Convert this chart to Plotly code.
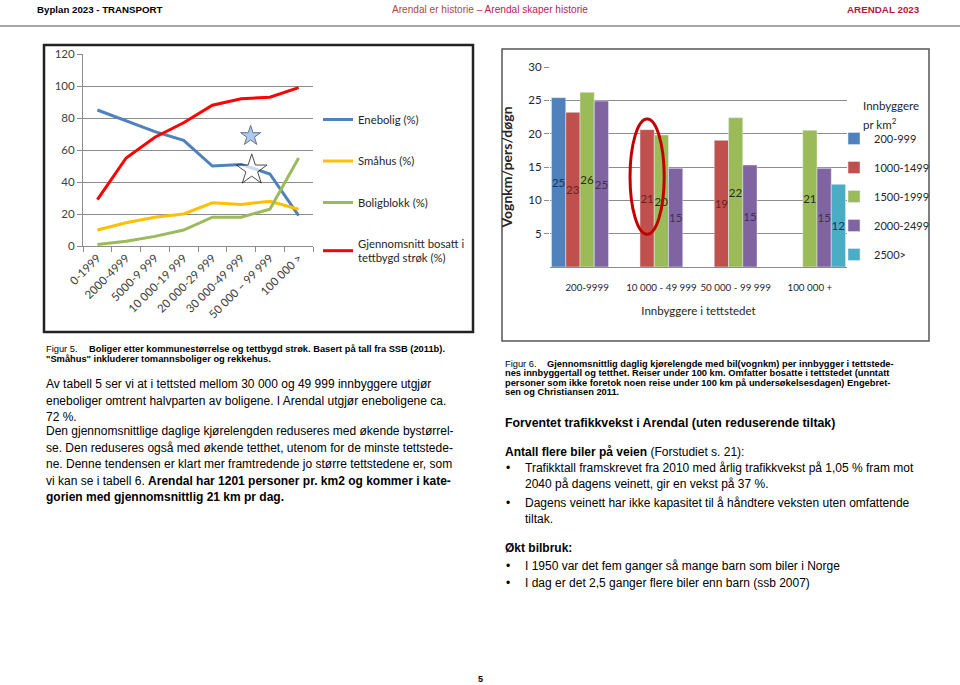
import plotly.graph_objects as go

# page size in px
W, H = 960, 685

# --- Figur 5 data (line chart) ---
size_classes = ['0-1999', '2000-4999', '5000-9 999', '10 000-19 999', '20 000-29 999',
                '30 000-49 999', '50 000 – 99 999', '100 000 >']
enebolig = [85, 78, 71.5, 66, 50, 51, 45, 19]
smahus = [10, 14.5, 18, 20, 27, 26, 28, 23]
boligblokk = [1, 3, 6, 10, 18, 18, 23, 55]
tettbygd = [29, 55, 68, 77, 88, 92, 93, 99]
star_x = [5.33, 5.37]
star_y = [68.8, 47.5]

# --- Figur 6 data (bar chart) ---
town_sizes = ['200-9999', '10 000 - 49 999', '50 000 - 99 999', '100 000 +']
dens_200_999 = [25.4, None, None, None]
dens_1000_1499 = [23.2, 20.6, 19.0, None]
dens_1500_1999 = [26.2, 19.8, 22.4, 20.5]
dens_2000_2499 = [24.9, 14.8, 15.3, 14.8]
dens_2500 = [None, None, None, 12.4]
highlight_group = 1   # 10 000 - 49 999
highlight_slot = 1    # 1000-1499 bar

CHART_FONT = 'Lato, Calibri, sans-serif'
BODY_FONT = 'Liberation Sans, Arial, sans-serif'


def px(x):
    return x / W


def py(y):
    return 1 - y / H


fig = go.Figure()

# line chart
line_series = [
    ('Enebolig (%)', enebolig, '#4f81bd'),
    ('Småhus (%)', smahus, '#ffc000'),
    ('Boligblokk (%)', boligblokk, '#9bbb59'),
    ('Gjennomsnitt bosatt i<br>tettbygd strøk (%)', tettbygd, '#ff0000'),
]
for i, (name, vals, col) in enumerate(line_series):
    fig.add_trace(go.Scatter(x=list(range(len(size_classes))), y=vals, name=name,
                             mode='lines', line=dict(color=col, width=3),
                             legendgroup='l%d' % i, xaxis='x', yaxis='y'))

fig.add_trace(go.Scatter(x=star_x, y=star_y, mode='markers', showlegend=False,
                         marker=dict(symbol='star', size=[15, 23], color=['#8db3e2', 'white'],
                                     line=dict(color=['#1f3864', '#000000'], width=1)),
                         xaxis='x', yaxis='y'))

# bar chart
bar_series = [
    ('200-999', dens_200_999, '#4f81bd', '#17375e'),
    ('1000-1499', dens_1000_1499, '#c0504d', '#632523'),
    ('1500-1999', dens_1500_1999, '#9bbb59', '#263010'),
    ('2000-2499', dens_2000_2499, '#8064a2', '#3f3151'),
    ('2500>', dens_2500, '#4bacc6', '#17375e'),
]
for i, (name, vals, col, tcol) in enumerate(bar_series):
    fig.add_trace(go.Bar(x=town_sizes, y=vals, name=name, marker_color=col,
                         texttemplate='%{y:.0f}', textposition='inside',
                         insidetextanchor='middle', textangle=0, constraintext='none',
                         textfont=dict(family=CHART_FONT, size=11.5, color=tcol),
                         legend='legend2', legendgroup='b%d' % i,
                         xaxis='x2', yaxis='y2'))

# red ellipse around the Arendal bar
bargap = 0.04
slot_w = (1 - bargap) / len(bar_series)
cx = highlight_group + (highlight_slot - 2) * slot_w
fig.add_shape(type='circle', xref='x2', yref='y2', x0=cx - 0.23, x1=cx + 0.23,
              y0=4.9, y1=22.2, line=dict(color='#c00000', width=3))

grid = '#8c8c8c'
fig.update_layout(
    width=W, height=H, margin=dict(l=0, r=0, t=0, b=0, autoexpand=False),
    paper_bgcolor='white', plot_bgcolor='white',
    barmode='group', bargap=bargap, bargroupgap=0,
    xaxis=dict(domain=[px(83), px(313)], range=[-0.5, 7.5], anchor='y',
               tickvals=list(range(len(size_classes))), ticktext=size_classes,
               tickangle=-45, showgrid=False, zeroline=False, automargin=False,
               showline=True, linecolor=grid, ticks='',
               minor=dict(ticks='outside', ticklen=5, tickcolor=grid, tick0=-0.5, dtick=1,
                          showgrid=False),
               tickfont=dict(family=CHART_FONT, size=11.5, color='#404040')),
    yaxis=dict(domain=[py(246), py(54)], range=[0, 120], dtick=20, anchor='x',
               gridcolor=grid, zeroline=False, showline=True, linecolor=grid,
               ticks='outside', ticklen=5, tickcolor=grid, automargin=False,
               tickfont=dict(family=CHART_FONT, size=11.5, color='#404040')),
    xaxis2=dict(domain=[px(550), px(847)], type='category', anchor='y2', showgrid=False,
                showline=True, linecolor=grid, ticks='', ticklabelstandoff=11,
                tickangle=0, automargin=False,
                tickfont=dict(family=CHART_FONT, size=9.8, color='#262626'),
                title=dict(text='Innbyggere i tettstedet', standoff=15,
                           font=dict(family=CHART_FONT, size=11.5, color='#262626'))),
    yaxis2=dict(domain=[py(267), py(67)], range=[0, 30], tickvals=[5, 10, 15, 20, 25, 30],
                anchor='x2', gridcolor=grid, zeroline=False, showline=False,
                ticks='outside', ticklen=5, tickcolor=grid, automargin=False,
                tickfont=dict(family=CHART_FONT, size=11.5, color='#262626'),
                title=dict(text='<b>Vognkm/pers/døgn</b>', standoff=12,
                           font=dict(family=CHART_FONT, size=14, color='#262626'))),
    legend=dict(x=px(318), y=py(105), xanchor='left', yanchor='top',
                tracegroupgap=22.5, bgcolor='rgba(0,0,0,0)',
                font=dict(family=CHART_FONT, size=11.3, color='#262626')),
    legend2=dict(x=px(834), y=py(124), xanchor='left', yanchor='top',
                 tracegroupgap=10, bgcolor='rgba(0,0,0,0)',
                 font=dict(family=CHART_FONT, size=11, color='#262626')),
)

# chart frames and header rule
fig.add_shape(type='rect', xref='paper', yref='paper', x0=px(44), x1=px(473),
              y0=py(332), y1=py(45), line=dict(color='#222222', width=2.5))
fig.add_shape(type='rect', xref='paper', yref='paper', x0=px(502), x1=px(929),
              y0=py(341), y1=py(49), line=dict(color='#555555', width=1.5))
fig.add_shape(type='line', xref='paper', yref='paper', x0=0, x1=1,
              y0=py(26), y1=py(26), line=dict(color='#8a8a8a', width=1.5))


def note(x, y, text, size=12, anchor='left', color='black', family=BODY_FONT):
    fig.add_annotation(x=px(x), y=py(y), xref='paper', yref='paper', text=text,
                       showarrow=False, xanchor=anchor, yanchor='middle', align='left',
                       font=dict(family=family, size=size, color=color))


# legend title of the bar chart
note(861, 106, 'Innbyggere', size=11.5, color='#262626', family=CHART_FONT)
note(861, 124, 'pr km<sup>2</sup>', size=11.5, color='#262626', family=CHART_FONT)

# header
note(35, 9, '<b>Byplan 2023 - TRANSPORT</b>', size=9.7)
note(490, 9, "<span style='color:#b4473a'>Arendal er historie</span>"
             " <span style='color:#b03a52'>–</span> "
             "<span style='color:#b0245a'>Arendal skaper historie</span>", size=10.1, anchor='center')
note(922, 9, '<b>ARENDAL 2023</b>', size=9.8, anchor='right', color='#b5173f')

# figure captions
note(44, 349, 'Figur 5.', size=9.3)
note(87, 349, '<b>Boliger etter kommunestørrelse og tettbygd strøk. Basert på tall fra SSB (2011b).</b>', size=9.3)
note(44, 358.5, '<b>"Småhus" inkluderer tomannsboliger og rekkehus.</b>', size=9.3)

fig6_caption = [
    'Gjennomsnittlig daglig kjørelengde med bil(vognkm) per innbygger i tettstede-',
    'nes innbyggertall og tetthet. Reiser under 100 km. Omfatter bosatte i tettstedet (unntatt',
    'personer som ikke foretok noen reise under 100 km på undersøkelsesdagen) Engebret-',
    'sen og Christiansen 2011.',
]
note(503, 364, 'Figur 6.', size=9.3)
for i, line in enumerate(fig6_caption):
    note(545 if i == 0 else 503, 364 + i * 9.3, '<b>%s</b>' % line, size=9.3)

# left column body text
para1 = [
    'Av tabell 5 ser vi at i tettsted mellom 30 000 og 49 999 innbyggere utgjør',
    'eneboliger omtrent halvparten av boligene. I Arendal utgjør eneboligene ca.',
    '72 %.',
]
para2 = [
    'Den gjennomsnittlige daglige kjørelengden reduseres med økende bystørrel-',
    'se. Den reduseres også med økende tetthet, utenom for de minste tettstede-',
    'ne. Denne tendensen er klart mer framtredende jo større tettstedene er, som',
    'vi kan se i tabell 6. <b>Arendal har 1201 personer pr. km2 og kommer i kate-</b>',
    '<b>gorien med gjennomsnittlig 21 km pr dag.</b>',
]
for i, line in enumerate(para1):
    note(44, 384 + i * 16.5, line)
for i, line in enumerate(para2):
    note(44, 431 + i * 16.6, line)

# right column body text
note(503, 423, '<b>Forventet trafikkvekst i Arendal (uten reduserende tiltak)</b>', size=12.3)
note(503, 452, '<b>Antall flere biler på veien</b> (Forstudiet s. 21):')
bullets1 = [
    ['Trafikktall framskrevet fra 2010 med årlig trafikkvekst på 1,05 % fram mot',
     '2040 på dagens veinett, gir en vekst på 37 %.'],
    ['Dagens veinett har ikke kapasitet til å håndtere veksten uten omfattende',
     'tiltak.'],
]
y = 468
for item in bullets1:
    note(504, y, '•')
    for line in item:
        note(523, y, line)
        y += 16
    y += 3
note(503, 548, '<b>Økt bilbruk:</b>')
bullets2 = [
    'I 1950 var det fem ganger så mange barn som biler i Norge',
    'I dag er det 2,5 ganger flere biler enn barn (ssb 2007)',
]
for i, line in enumerate(bullets2):
    note(504, 566 + i * 17, '•')
    note(523, 566 + i * 17, line)

note(480, 679, '<b>5</b>', size=9, anchor='center')

# page body has a default 8px margin; remove it so the page lines up
fig.write_html('out.html', config={'displayModeBar': False},
               post_script="document.body.style.margin='0';")
